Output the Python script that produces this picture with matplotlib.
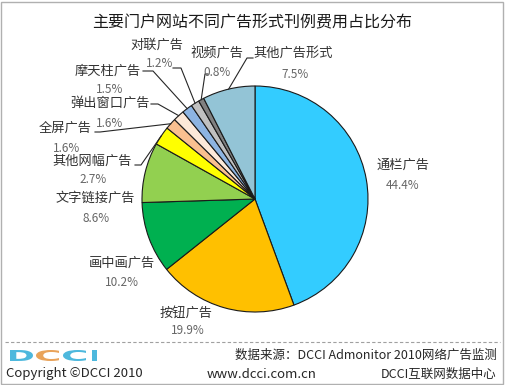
import numpy as np
import matplotlib
matplotlib.use('Agg')
import matplotlib.pyplot as plt
from matplotlib.textpath import TextPath
from matplotlib.patches import PathPatch, Rectangle
from matplotlib.transforms import Affine2D
from matplotlib.font_manager import FontProperties

plt.rcParams['font.family'] = ['Noto Sans CJK SC', 'DejaVu Sans']

# ---------------- data ----------------
kategori = ['通栏广告', '按钮广告', '画中画广告', '文字链接广告', '其他网幅广告',
            '全屏广告', '弹出窗口广告', '摩天柱广告', '对联广告', '视频广告', '其他广告形式']
persen = [44.4, 19.9, 10.2, 8.6, 2.7, 1.6, 1.6, 1.5, 1.2, 0.8, 7.5]
warna = ['#33CCFF', '#FFC000', '#00B050', '#92D050', '#FFFF00', '#FAC090',
         '#FDE9D9', '#8DB4E2', '#C0C0C0', '#808080', '#93C4D6']

judul = '主要门户网站不同广告形式刊例费用占比分布'

# ---------------- layout (pixels) ----------------
W, H = 505, 385
CX, CY, R = 255, 199, 113

# posisi label nama / persen, dan potongan garis penunjuk (atau None)
pos_nama = [(403, 165), (186, 313), (122, 263), (95, 198), (92, 161),
            (65, 128), (110, 103), (108, 71), (157, 45), (217, 53), (293, 53)]
pos_pct = [(403, 185), (188, 331), (122, 283), (96, 218), (93, 179),
           (67, 148), (110, 123), (110, 89), (160, 63), (217, 72), (295, 74)]
stub = [None, None, None, None, ((135, 165), (141, 165)),
        ((95, 132), (100, 132)), ((151, 104), (158, 104)),
        ((143, 71), (153, 71)), ((173, 68), (181, 68)),
        ((208, 74), (205, 74)), ((253, 58), (247, 58))]


def px2d(p):
    return ((p[0] - CX) / R, (CY - p[1]) / R)


fig = plt.figure(figsize=(W / 100, H / 100), dpi=100)
fig.patch.set_facecolor('white')

ax = fig.add_axes([(CX - R) / W, (H - CY - R) / H, 2 * R / W, 2 * R / H])
wedges, _ = ax.pie(persen, colors=warna, startangle=90, counterclock=False,
                   wedgeprops=dict(edgecolor='#1a1a1a', linewidth=0.8))
ax.set_xlim(-1, 1)
ax.set_ylim(-1, 1)
ax.set_aspect('equal')
ax.axis('off')

for i, w in enumerate(wedges):
    nx, ny = px2d(pos_nama[i])
    ax.text(nx, ny, kategori[i], ha='center', va='center', fontsize=9.5,
            color='#333333', clip_on=False)
    qx, qy = px2d(pos_pct[i])
    ax.text(qx, qy, f'{persen[i]:.1f}%', ha='center', va='center', fontsize=8.5,
            color='#666666', clip_on=False)
    if stub[i] is not None:
        sudut = np.deg2rad((w.theta1 + w.theta2) / 2)
        ex, ey = np.cos(sudut), np.sin(sudut)
        a = px2d(stub[i][0])
        b = px2d(stub[i][1])
        ax.plot([a[0], b[0], ex], [a[1], b[1], ey], color='#262626',
                linewidth=0.8, clip_on=False)

# ---------------- judul ----------------
fig.text(0.5, 1 - 23 / H, judul, ha='center', va='center', fontsize=11.5,
         color='#1a1a1a')

# ---------------- footer ----------------
fig.add_artist(plt.Line2D([5 / W, 500 / W], [1 - 342 / H, 1 - 342 / H],
                          transform=fig.transFigure, color='#A0A0A0',
                          linewidth=0.8, linestyle=(0, (3, 2))))

# logo DCCI (huruf direntangkan)
px_tf = Affine2D().scale(1 / W, 1 / H) + fig.transFigure
fp = FontProperties(family='DejaVu Sans', weight='bold')
logo_huruf = ['D', 'C', 'C', 'I']
logo_warna = ['#4DB8DD', '#E9A35A', '#4DB8DD', '#4DB8DD']
logo_x = [10, 36, 63, 92]
for h, c, x0 in zip(logo_huruf, logo_warna, logo_x):
    tp = TextPath((0, 0), h, size=12, prop=fp)
    ext = tp.get_extents()
    sx = (5 if h == 'I' else 23) / max(ext.width, 1)
    sy = 11 / ext.height
    tr = Affine2D().translate(-ext.x0, -ext.y0).scale(sx, sy).translate(x0, H - 361)
    fig.add_artist(PathPatch(tr.transform_path(tp), transform=px_tf,
                             facecolor=c, edgecolor='none'))

fig.text(497 / W, 1 - 355 / H, '数据来源：DCCI Admonitor 2010网络广告监测',
         ha='right', va='center', fontsize=9, color='#262626')
fig.text(6 / W, 1 - 374 / H, 'Copyright ©DCCI 2010', ha='left', va='center',
         fontsize=9.5, color='#262626')
fig.text(262 / W, 1 - 374 / H, 'www.dcci.com.cn', ha='center', va='center',
         fontsize=9.5, color='#262626')
fig.text(497 / W, 1 - 374 / H, 'DCCI互联网数据中心', ha='right', va='center',
         fontsize=9, color='#262626')

# bingkai
fig.add_artist(Rectangle((1 / W, 1 / H), (W - 3) / W, (H - 3) / H,
                         transform=fig.transFigure, fill=False,
                         edgecolor='#B0B0B0', linewidth=1))

fig.savefig('out.png', dpi=100)
